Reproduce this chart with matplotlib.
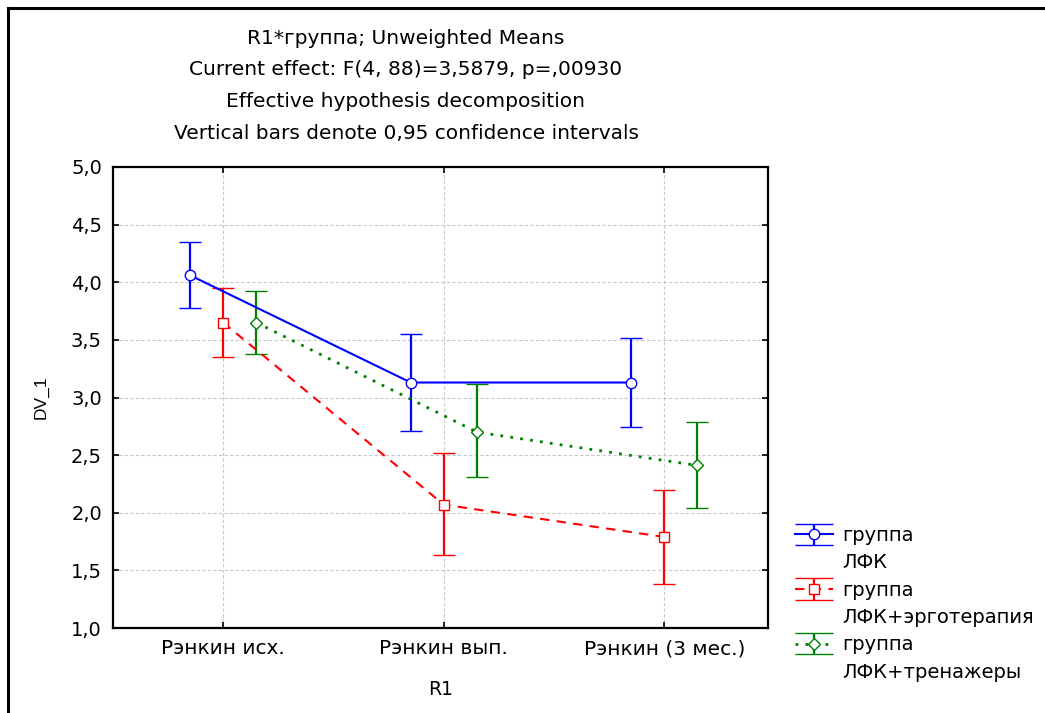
import matplotlib
matplotlib.use("Agg")
import matplotlib.pyplot as plt
from matplotlib.lines import Line2D
from matplotlib.legend_handler import HandlerErrorbar
from matplotlib.ticker import FuncFormatter, MultipleLocator

categories = ["Рэнкин исх.", "Рэнкин вып.", "Рэнкин (3 мес.)"]
series_names = ["группа", "группа", "группа"]
series_subnames = ["ЛФК", "ЛФК+эрготерапия", "ЛФК+тренажеры"]
means_lfk = [4.06, 3.13, 3.13]
lower_lfk = [3.78, 2.71, 2.74]
upper_lfk = [4.35, 3.55, 3.52]
means_ergo = [3.65, 2.07, 1.79]
lower_ergo = [3.35, 1.63, 1.38]
upper_ergo = [3.95, 2.52, 2.20]
means_tren = [3.65, 2.70, 2.41]
lower_tren = [3.38, 2.31, 2.04]
upper_tren = [3.92, 3.12, 2.79]

title_lines = ["R1*группа; Unweighted Means",
               "Current effect: F(4, 88)=3,5879, p=,00930",
               "Effective hypothesis decomposition",
               "Vertical bars denote 0,95 confidence intervals"]

W, H = 1045, 713
DPI = 100
fig = plt.figure(figsize=(W / DPI, H / DPI), dpi=DPI)
ax = fig.add_axes([113 / W, 1 - 628 / H, (768 - 113) / W, (628 - 167) / H])

styles = [
    dict(color="#0000ff", ls="-", lw=1.5, marker="o", ms=7.5, offset=-0.15),
    dict(color="#ff0000", ls=(0, (4.5, 3.5)), lw=1.5, marker="s", ms=7, offset=0.0),
    dict(color="#008000", ls=(0, (1, 2.6)), lw=2.0, marker="D", ms=6, offset=0.15),
]
all_means = [means_lfk, means_ergo, means_tren]
all_low = [lower_lfk, lower_ergo, lower_tren]
all_up = [upper_lfk, upper_ergo, upper_tren]

handles = []
for m, lo, up, st in zip(all_means, all_low, all_up, styles):
    x = [i + st["offset"] for i in range(len(categories))]
    yerr = [[mm - l for mm, l in zip(m, lo)], [u - mm for mm, u in zip(m, up)]]
    cont = ax.errorbar(x, m, yerr=yerr, color=st["color"], ls=st["ls"], lw=st["lw"],
                       marker=st["marker"], ms=st["ms"], mfc="white", mec=st["color"],
                       mew=1.0, elinewidth=1.6, capsize=8, capthick=1.6, zorder=3)
    handles.append(cont)

ax.set_xlim(-0.5, 2.47)
ax.set_ylim(1.0, 5.0)
ax.set_xticks(range(len(categories)))
ax.set_xticklabels(categories, family="DejaVu Sans", fontsize=14.5)
ax.yaxis.set_major_locator(MultipleLocator(0.5))
ax.yaxis.set_major_formatter(FuncFormatter(lambda v, p: f"{v:.1f}".replace(".", ",")))
ax.tick_params(axis="y", labelsize=14)
ax.tick_params(direction="in", top=True, right=True, length=4, width=1.2, pad=8)
ax.tick_params(axis="x", pad=8)
ax.grid(True, color="#c8c8c8", ls=(0, (3, 2)), lw=0.8)
ax.set_axisbelow(True)
for sp in ax.spines.values():
    sp.set_linewidth(1.6)
ax.set_xlabel("R1", family="DejaVu Sans", fontsize=13.5, labelpad=16)
ax.set_ylabel("DV_1", family="Liberation Sans", fontsize=12.5, labelpad=16)

for i, t in enumerate(title_lines):
    fig.text(406 / W, 1 - (38 + 31.7 * i) / H, t, ha="center", va="center",
             family="DejaVu Sans", fontsize=14.5)


class WideCapHandler(HandlerErrorbar):
    def create_artists(self, legend, orig_handle, xdescent, ydescent, width,
                       height, fontsize, trans):
        arts = super().create_artists(legend, orig_handle, xdescent, ydescent,
                                      width, height, fontsize, trans)
        for a in arts:
            if isinstance(a, Line2D) and a.get_marker() == "_":
                a.set_markersize(width)
        return arts


blank = Line2D([], [], color="none")
leg_handles, leg_labels = [], []
for h, n1, n2 in zip(handles, series_names, series_subnames):
    leg_handles += [h, blank]
    leg_labels += [n1, n2]

leg = ax.legend(handles=leg_handles, labels=leg_labels, loc="upper left",
                bbox_to_anchor=(795 / W, 1 - 526 / H), bbox_transform=fig.transFigure,
                frameon=False, prop={"family": "DejaVu Sans", "size": 14},
                handlelength=1.96, handletextpad=0.46, labelspacing=0.43,
                borderpad=0, borderaxespad=0,
                handler_map={type(handles[0]): WideCapHandler(yerr_size=0.55)})

fig.add_artist(Line2D([8 / W, 8 / W], [0, 1 - 8 / H], transform=fig.transFigure,
                      color="black", lw=2.2))
fig.add_artist(Line2D([8 / W, 1], [1 - 8 / H, 1 - 8 / H], transform=fig.transFigure,
                      color="black", lw=2.2))

fig.savefig("out.png", dpi=DPI, facecolor="white")
